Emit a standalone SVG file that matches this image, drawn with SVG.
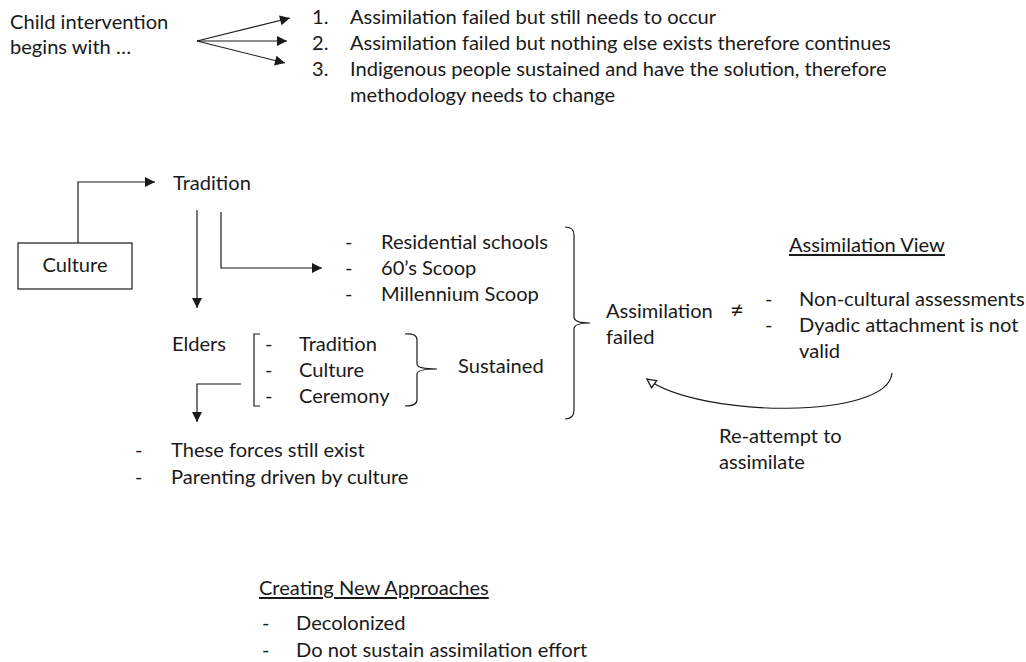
<svg xmlns="http://www.w3.org/2000/svg" width="1026" height="662" viewBox="0 0 1026 662">
<defs>
<style>
text{font-family:Lato,"Open Sans","Liberation Sans",sans-serif;font-size:20.1px;fill:#1a1a1a}
.ln{fill:none;stroke:#1a1a1a;stroke-width:1.2}
.u{text-decoration:underline}
</style>
<marker id="ah" viewBox="0 0 10 10" refX="10" refY="5" markerWidth="12" markerHeight="10" markerUnits="userSpaceOnUse" orient="auto"><path d="M0,0L10,5L0,10z" fill="#1a1a1a"/></marker>
<marker id="oh" viewBox="0 0 10 10" refX="9" refY="5" markerWidth="12" markerHeight="11" markerUnits="userSpaceOnUse" orient="auto"><path d="M1,1L9,5L1,9z" fill="#fff" stroke="#1a1a1a" stroke-width="1.2"/></marker>
</defs>
<rect width="1026" height="662" fill="#fff"/>
<g id="intro">
<text x="10" y="29">Child intervention</text>
<text x="10" y="54">begins with …</text>
</g>
<g id="options">
<text x="312" y="24">1.</text><text x="350" y="24">Assimilation failed but still needs to occur</text>
<text x="312" y="50">2.</text><text x="350" y="50">Assimilation failed but nothing else exists therefore continues</text>
<text x="312" y="76">3.</text><text x="350" y="76">Indigenous people sustained and have the solution, therefore</text>
<text x="350" y="102">methodology needs to change</text>
</g>
<g id="culture"><rect x="18" y="243" width="114" height="46" class="ln"/><text x="75" y="272" text-anchor="middle">Culture</text></g>
<g id="tradition"><text x="173" y="190">Tradition</text></g>
<g id="schools">
<text x="345" y="249">-</text><text x="381" y="249">Residential schools</text>
<text x="345" y="275">-</text><text x="381" y="275">60’s Scoop</text>
<text x="345" y="301">-</text><text x="381" y="301">Millennium Scoop</text>
</g>
<g id="elders">
<text x="172" y="351">Elders</text>
<text x="265" y="351">-</text><text x="299" y="351">Tradition</text>
<text x="265" y="377">-</text><text x="299" y="377">Culture</text>
<text x="265" y="403">-</text><text x="299" y="403">Ceremony</text>
</g>
<g id="sustained"><text x="458" y="373">Sustained</text></g>
<g id="forces">
<text x="135" y="457">-</text><text x="171" y="457">These forces still exist</text>
<text x="135" y="484">-</text><text x="171" y="484">Parenting driven by culture</text>
</g>
<g id="failed">
<text x="606" y="318">Assimilation</text><text x="606" y="344">failed</text>
<text x="730" y="318" style="font-size:24px">≠</text>
</g>
<g id="view">
<text x="789" y="252" class="u">Assimilation View</text>
<text x="765" y="306">-</text><text x="799" y="306">Non-cultural assessments</text>
<text x="765" y="332">-</text><text x="799" y="332">Dyadic attachment is not</text>
<text x="799" y="358">valid</text>
</g>
<g id="reattempt"><text x="719" y="443">Re-attempt to</text><text x="719" y="469">assimilate</text></g>
<g id="approaches">
<text x="259" y="595" class="u">Creating New Approaches</text>
<text x="262" y="630">-</text><text x="296" y="630">Decolonized</text>
<text x="262" y="657">-</text><text x="296" y="657">Do not sustain assimilation effort</text>
</g>
<g id="connectors">
<path class="ln" d="M197,41L290,18" marker-end="url(#ah)"/>
<path class="ln" d="M197,41L287,41" marker-end="url(#ah)"/>
<path class="ln" d="M197,41L285,63" marker-end="url(#ah)"/>
<path class="ln" d="M78,243V182H155" marker-end="url(#ah)"/>
<path class="ln" d="M197,210V308" marker-end="url(#ah)"/>
<path class="ln" d="M221,212V268H322" marker-end="url(#ah)"/>
<path class="ln" d="M241,384H197V422" marker-end="url(#ah)"/>
<path class="ln" d="M260,334H254V406H260"/>
<path class="ln" d="M405,334Q417,333 417,340V364Q417,369 437,369Q417,369 417,374V400Q417,406 405,406"/>
<path class="ln" d="M565,227Q574,227 574,235V317Q574,323 590,323Q574,323 574,329V410Q574,419 565,419"/>
<path class="ln" d="M892,373C888,420 700,418 647,379" marker-end="url(#oh)"/>
</g>
</svg>
